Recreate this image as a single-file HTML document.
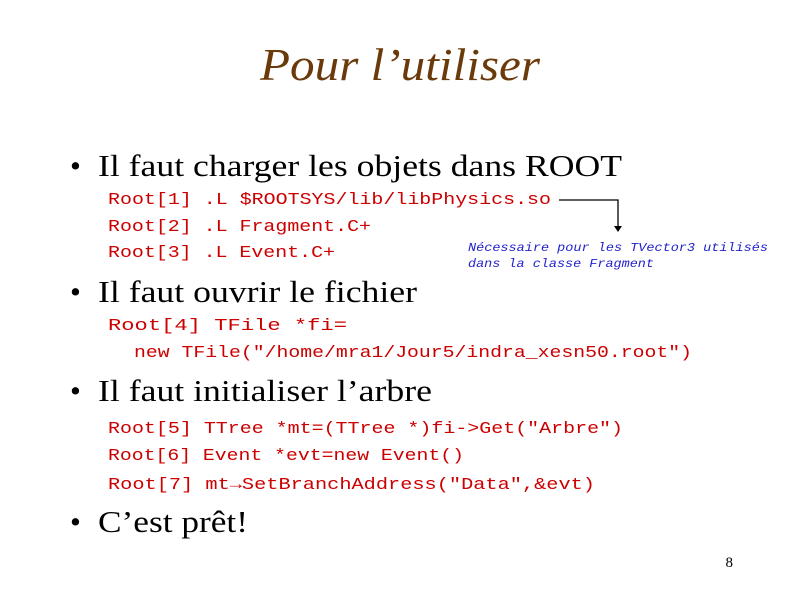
<!DOCTYPE html>
<html><head><meta charset="utf-8"><style>
html,body{margin:0;padding:0;background:#fff;}
svg{display:block}
.b{font-family:"Liberation Serif",serif;font-size:31px;fill:#000}
.c{font-family:"Liberation Mono",monospace;font-size:17px;fill:#cc0000}
.n{font-family:"Liberation Mono",monospace;font-size:12px;font-style:italic;fill:#2222cc}
</style></head><body>
<svg width="800" height="600" viewBox="0 0 800 600">
<text x="400" y="80" text-anchor="middle" font-family="Liberation Serif,serif" font-style="italic" font-size="46" fill="#6b3a0a" textLength="280" lengthAdjust="spacingAndGlyphs">Pour l’utiliser</text>

<text x="70" y="176" class="b">•</text>
<text x="98" y="176" class="b" textLength="524" lengthAdjust="spacingAndGlyphs">Il faut charger les objets dans ROOT</text>
<text x="108" y="204" class="c" textLength="443" lengthAdjust="spacingAndGlyphs">Root[1] .L $ROOTSYS/lib/libPhysics.so</text>
<text x="108" y="231" class="c" textLength="263" lengthAdjust="spacingAndGlyphs">Root[2] .L Fragment.C+</text>
<text x="108" y="257" class="c" textLength="227" lengthAdjust="spacingAndGlyphs">Root[3] .L Event.C+</text>
<polyline points="559,200 618,200 618,226" fill="none" stroke="#000" stroke-width="1.3"/>
<polygon points="614,226 622,226 618,232" fill="#000"/>
<text x="468" y="251" class="n" textLength="300" lengthAdjust="spacingAndGlyphs">Nécessaire pour les TVector3 utilisés</text>
<text x="468" y="267" class="n" textLength="186" lengthAdjust="spacingAndGlyphs">dans la classe Fragment</text>

<text x="70" y="302" class="b">•</text>
<text x="98" y="302" class="b" textLength="319" lengthAdjust="spacingAndGlyphs">Il faut ouvrir le fichier</text>
<text x="108" y="330" class="c" textLength="239" lengthAdjust="spacingAndGlyphs">Root[4] TFile *fi=</text>
<text x="134" y="357" class="c" textLength="558" lengthAdjust="spacingAndGlyphs">new TFile("/home/mra1/Jour5/indra_xesn50.root")</text>

<text x="70" y="401" class="b">•</text>
<text x="98" y="401" class="b" textLength="334" lengthAdjust="spacingAndGlyphs">Il faut initialiser l’arbre</text>
<text x="108" y="433" class="c" textLength="515" lengthAdjust="spacingAndGlyphs">Root[5] TTree *mt=(TTree *)fi->Get("Arbre")</text>
<text x="108" y="460" class="c" textLength="356" lengthAdjust="spacingAndGlyphs">Root[6] Event *evt=new Event()</text>
<text x="108" y="489" class="c" textLength="487" lengthAdjust="spacingAndGlyphs">Root[7] mt→SetBranchAddress("Data",&amp;evt)</text>

<text x="70" y="532" class="b">•</text>
<text x="98" y="532" class="b" textLength="150" lengthAdjust="spacingAndGlyphs">C’est prêt!</text>

<text x="733" y="567" text-anchor="end" font-family="Liberation Serif,serif" font-size="15" fill="#000">8</text>
</svg>
</body></html>
